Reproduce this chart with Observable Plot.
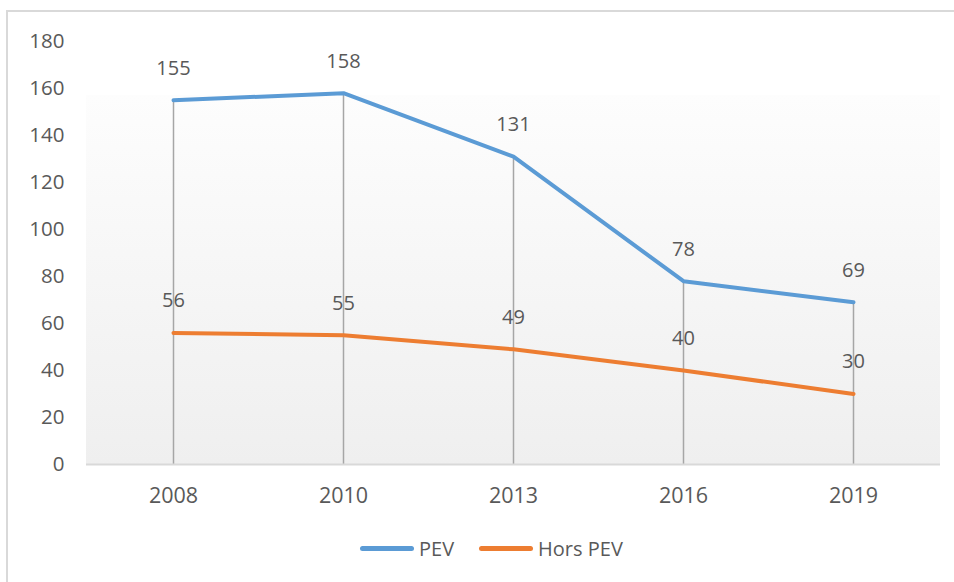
<!DOCTYPE html>
<html>
<head>
<meta charset="utf-8">
<script src="https://cdn.jsdelivr.net/npm/d3@7"></script>
<script src="https://cdn.jsdelivr.net/npm/@observablehq/plot@0.6"></script>
<style>
  html, body { margin: 0; padding: 0; background: #fff; overflow: hidden; width: 954px; height: 582px; }
  #frame { position: absolute; left: 6px; top: 10px; width: 980px; height: 620px; border: 2px solid #d9d9d9; box-sizing: border-box; }
  #bg { position: absolute; left: 86px; top: 95px; width: 854px; height: 369px;
        background: linear-gradient(to bottom, #fdfdfd 0%, #efefef 100%); }
  #chart { position: absolute; left: 0; top: 0; }
  #legend { position: absolute; left: 360px; top: 535px; font-family: "Open Sans", sans-serif; font-size: 20px; color: #595959; display: flex; align-items: center; white-space: nowrap; }
  .sw { display: inline-block; width: 54px; height: 5px; border-radius: 3px; margin-right: 5px; }
</style>
</head>
<body>
<div id="frame"></div>
<div id="bg"></div>
<div id="chart"></div>
<div id="legend"></div>
<script>
const years = ["2008", "2010", "2013", "2016", "2019"];
const pev = [155, 158, 131, 78, 69];
const horsPev = [56, 55, 49, 40, 30];
const yTicks = [0, 20, 40, 60, 80, 100, 120, 140, 160, 180];
const seriesNames = ["PEV", "Hors PEV"];
const seriesColors = ["#5b9bd5", "#ed7d31"];

const rows = [];
years.forEach((yr, i) => {
  rows.push({year: yr, value: pev[i], series: "PEV"});
  rows.push({year: yr, value: horsPev[i], series: "Hors PEV"});
});
const pevRows = rows.filter(d => d.series === "PEV");

const chart = Plot.plot({
  width: 954,
  height: 520,
  marginLeft: 86,
  marginRight: 14,
  marginTop: 41,
  marginBottom: 56,
  style: {background: "transparent", fontFamily: "'Open Sans', sans-serif", fontSize: "20px", color: "#595959"},
  x: {type: "point", domain: years, padding: 0.5, label: null},
  y: {domain: [0, 180], label: null},
  color: {domain: seriesNames, range: seriesColors},
  marks: [
    Plot.ruleX(pevRows, {x: "year", y1: 0, y2: "value", stroke: "#a6a6a6", strokeWidth: 1.5}),
    Plot.ruleY([0], {stroke: "#d9d9d9", strokeWidth: 2}),
    Plot.line(rows, {x: "year", y: "value", z: "series", stroke: "series", strokeWidth: 4, strokeLinecap: "round", strokeLinejoin: "round"}),
    Plot.text(rows, {x: "year", y: "value", text: d => String(d.value), dy: -32, fill: "#595959", fontSize: 20}),
    Plot.axisY({ticks: yTicks, tickSize: 0, tickPadding: 22, fontSize: 20.5, fill: "#595959", label: null}),
    Plot.axisX({tickSize: 0, tickPadding: 23, fontSize: 21.5, fill: "#595959", label: null})
  ]
});
document.getElementById("chart").appendChild(chart);

const legend = document.getElementById("legend");
seriesNames.forEach((name, i) => {
  const item = document.createElement("span");
  item.style.display = "inline-flex";
  item.style.alignItems = "center";
  item.style.marginRight = i === 0 ? "25px" : "0";
  const sw = document.createElement("span");
  sw.className = "sw";
  sw.style.background = seriesColors[i];
  const label = document.createElement("span");
  label.textContent = name;
  item.appendChild(sw);
  item.appendChild(label);
  legend.appendChild(item);
});
</script>
</body>
</html>
